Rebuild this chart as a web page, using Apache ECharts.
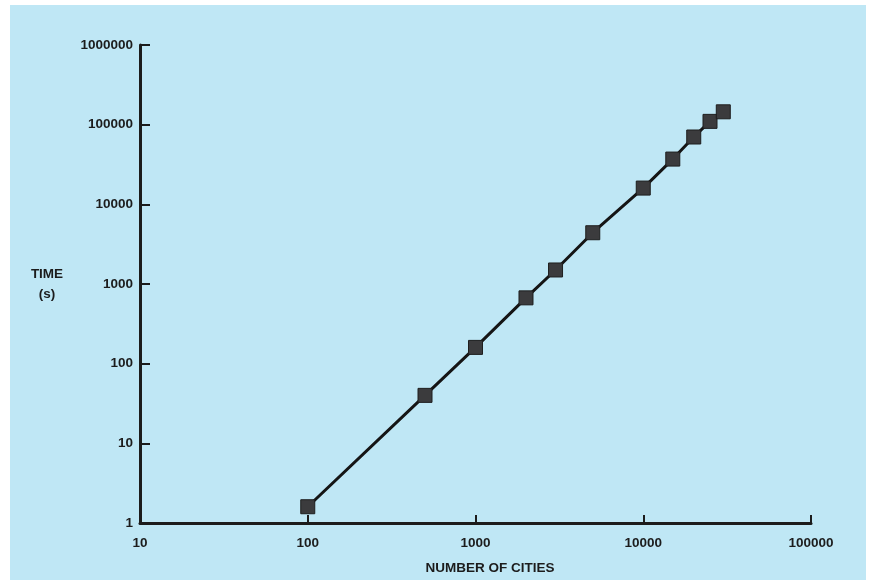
<!DOCTYPE html>
<html>
<head>
<meta charset="utf-8">
<script src="https://cdn.jsdelivr.net/npm/echarts@6/dist/echarts.min.js"></script>
<style>
  html, body { margin: 0; padding: 0; background: #ffffff; }
  #panel { position: absolute; left: 10px; top: 5px; width: 856px; height: 575px; background: #bfe7f5; }
  #chart { position: absolute; left: 0; top: 0; width: 872px; height: 580px; }
</style>
</head>
<body>
<div id="panel"></div>
<div id="chart"></div>
<script>
// Number of cities in the tour problem
const cities = [100, 500, 1000, 2000, 3000, 5000, 10000, 15000, 20000, 25000, 30000];
// Computation time in seconds
const timeSeconds = [1.6, 40, 160, 670, 1500, 4400, 16000, 37000, 70000, 110000, 145000];

const xTickLabels = ['10', '100', '1000', '10000', '100000'];
const yTickLabels = ['1', '10', '100', '1000', '10000', '100000', '1000000'];

const ink = '#1c1c1c';
const numFont = "'Liberation Sans', Arial, sans-serif";
const nameFont = "'Liberation Sans', Arial, sans-serif";

const points = cities.map((c, i) => [c, timeSeconds[i]]);

const chart = echarts.init(document.getElementById('chart'), null, { renderer: 'canvas' });
chart.setOption({
  backgroundColor: 'transparent',
  animation: false,
  grid: { left: 140, right: 61, top: 45, bottom: 57 },
  xAxis: {
    type: 'log',
    logBase: 10,
    min: 10,
    max: 100000,
    name: 'NUMBER OF CITIES',
    nameLocation: 'middle',
    nameGap: 38,
    nameTextStyle: { color: ink, fontFamily: nameFont, fontWeight: 'bold', fontSize: 13.5, padding: [0, 0, 0, 29] },
    axisLine: { show: true, lineStyle: { color: ink, width: 3 } },
    axisTick: { show: true, inside: true, length: 8, lineStyle: { color: ink, width: 2 } },
    splitLine: { show: false },
    minorTick: { show: false },
    axisLabel: {
      color: ink, fontFamily: numFont, fontWeight: 'bold', fontSize: 13.5, margin: 13,
      formatter: v => xTickLabels.find(t => Number(t) === Math.round(v)) || ''
    }
  },
  yAxis: {
    type: 'log',
    logBase: 10,
    min: 1,
    max: 1000000,
    name: 'TIME\n(s)',
    nameLocation: 'middle',
    nameRotate: 0,
    nameGap: 93,
    nameTextStyle: { color: ink, fontFamily: nameFont, fontWeight: 'bold', fontSize: 13.5, align: 'center', lineHeight: 20 },
    axisLine: { show: true, lineStyle: { color: ink, width: 3 } },
    axisTick: { show: true, inside: true, length: 10, lineStyle: { color: ink, width: 2 } },
    splitLine: { show: false },
    minorTick: { show: false },
    axisLabel: {
      color: ink, fontFamily: numFont, fontWeight: 'bold', fontSize: 13.5, margin: 7,
      formatter: v => yTickLabels.find(t => Number(t) === Math.round(v)) || ''
    }
  },
  series: [{
    type: 'line',
    data: points,
    symbol: 'rect',
    symbolSize: 14,
    showAllSymbol: true,
    lineStyle: { color: '#151515', width: 3 },
    itemStyle: { color: '#3b3b3d', borderColor: '#1e1e1e', borderWidth: 1 },
    z: 3
  }]
});
</script>
</body>
</html>
